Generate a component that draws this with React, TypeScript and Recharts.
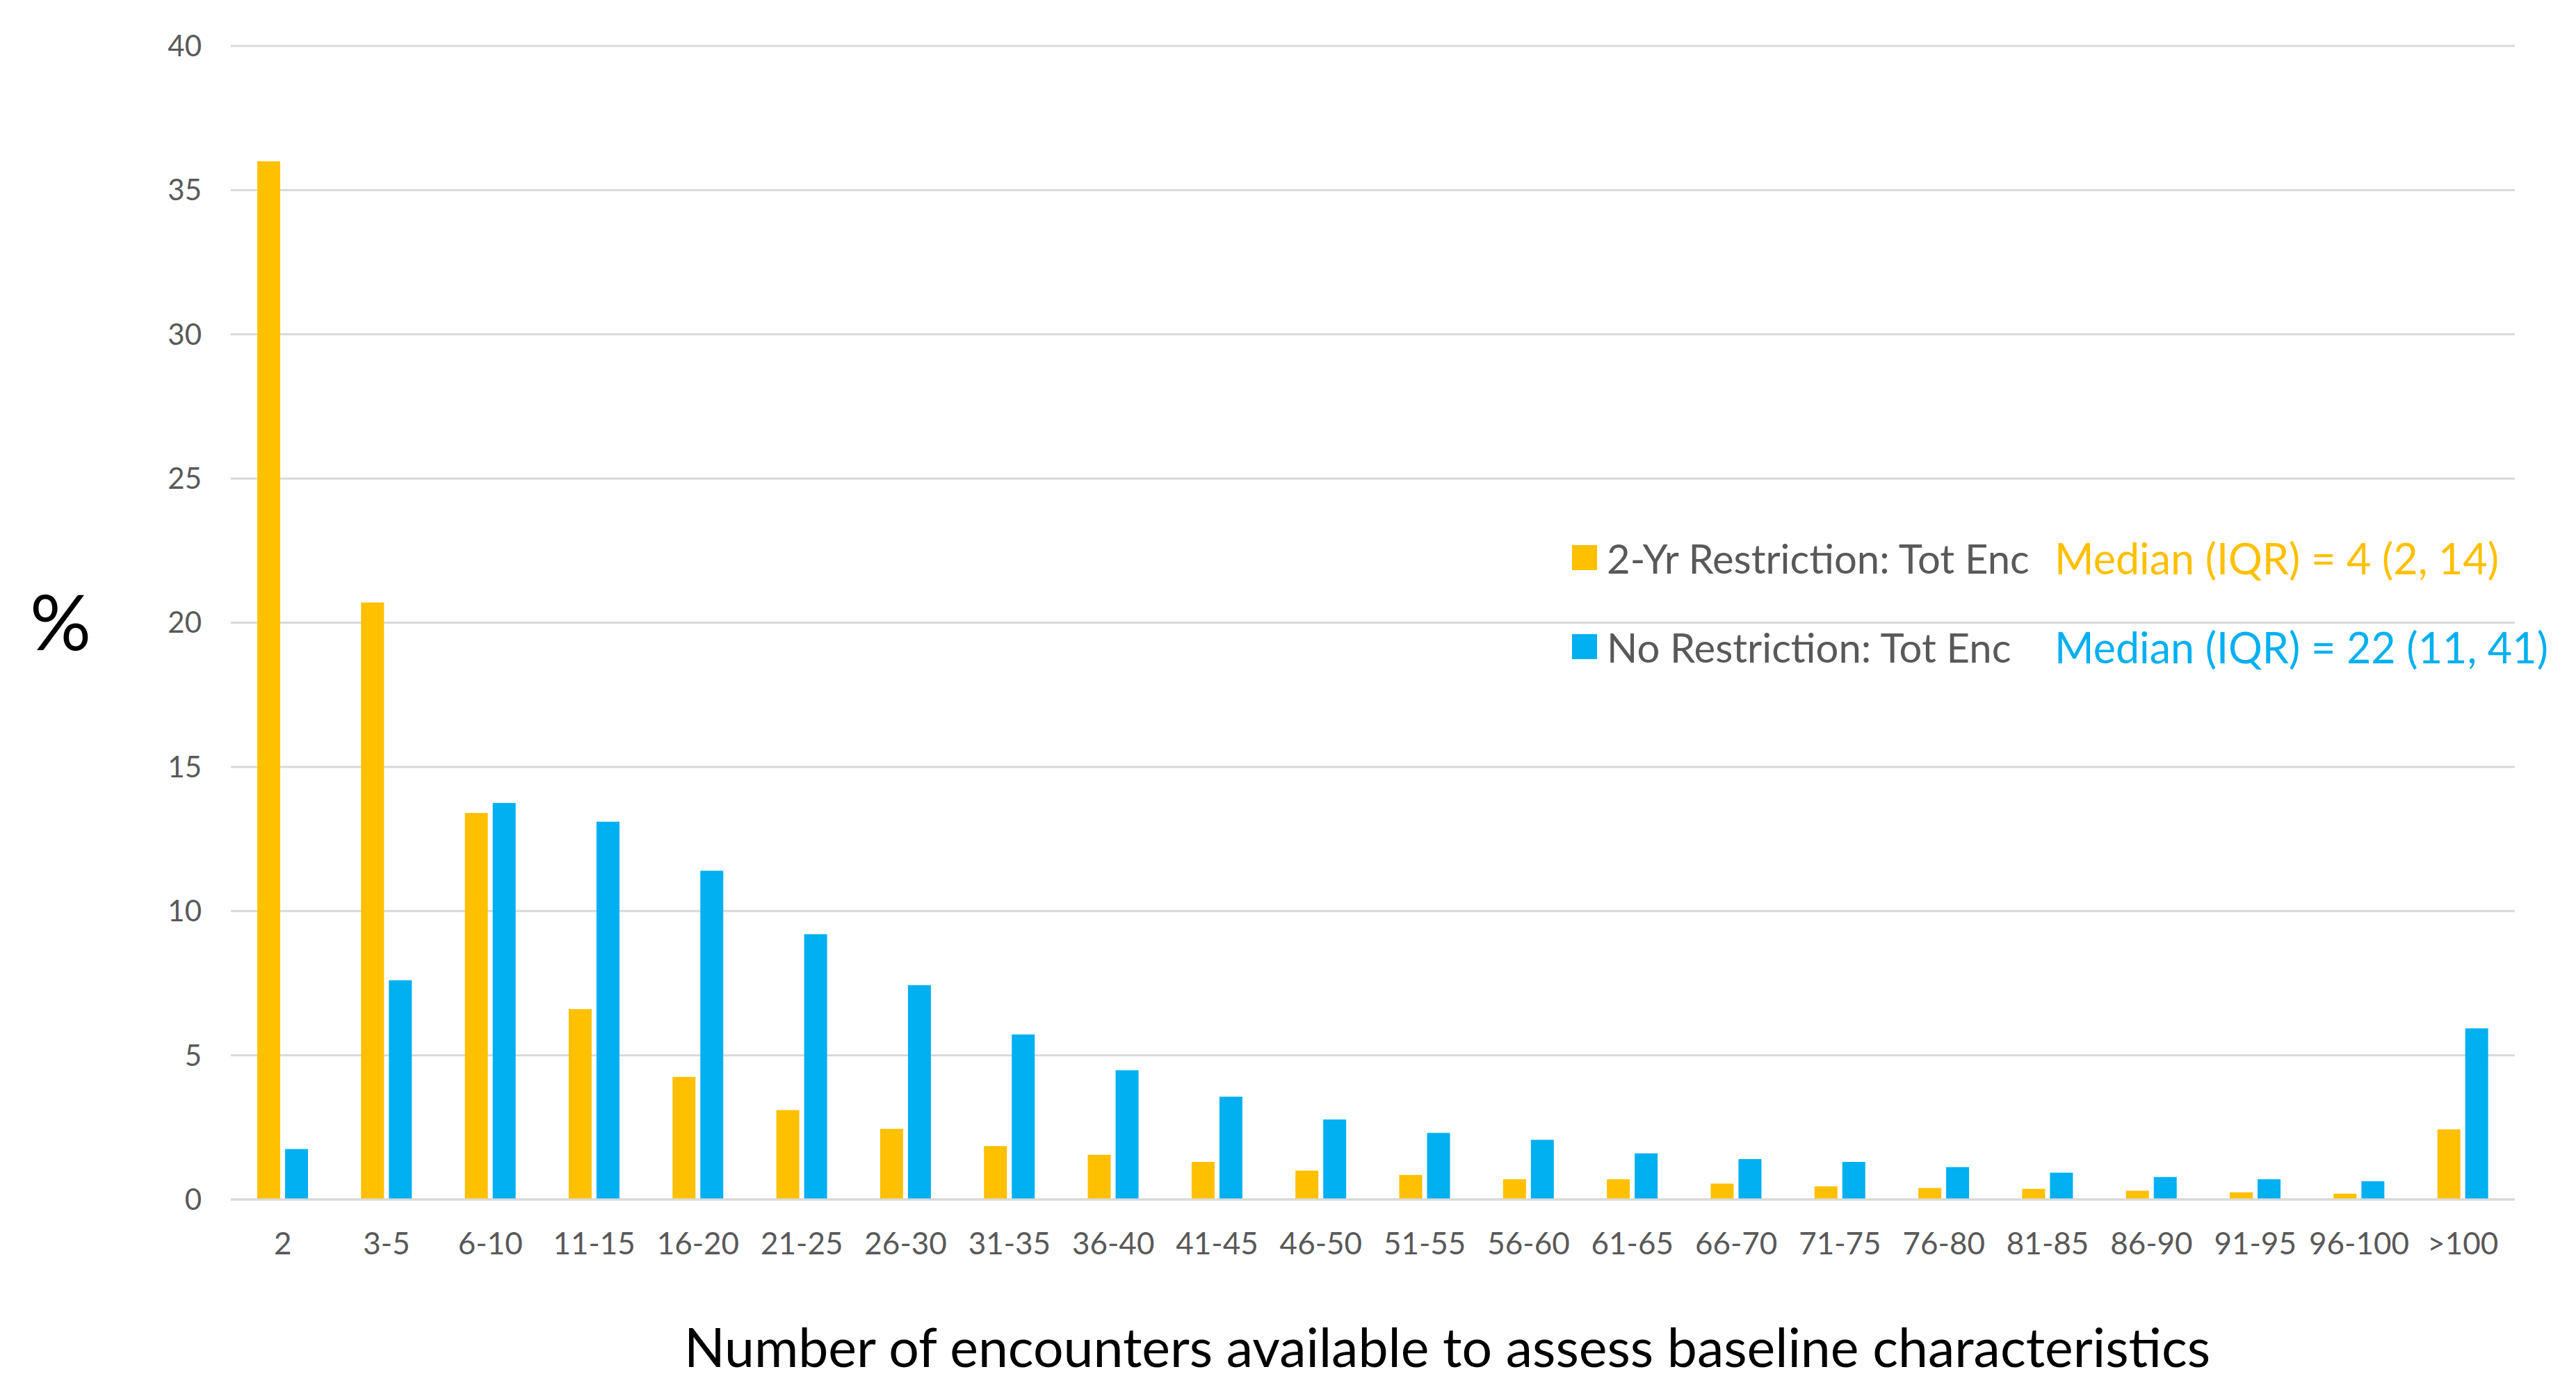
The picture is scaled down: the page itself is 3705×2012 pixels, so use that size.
import React from 'react';
import { BarChart, Bar, XAxis, YAxis, CartesianGrid, Legend, Label } from 'recharts';

const categories = [
  '2', '3-5', '6-10', '11-15', '16-20', '21-25', '26-30', '31-35', '36-40', '41-45', '46-50',
  '51-55', '56-60', '61-65', '66-70', '71-75', '76-80', '81-85', '86-90', '91-95', '96-100', '>100',
];
const restricted = [
  36.0, 20.7, 13.4, 6.6, 4.25, 3.1, 2.45, 1.85, 1.55, 1.3, 1.0,
  0.85, 0.7, 0.7, 0.55, 0.45, 0.4, 0.37, 0.3, 0.25, 0.2, 2.43,
];
const unrestricted = [
  1.75, 7.6, 13.75, 13.1, 11.4, 9.2, 7.43, 5.72, 4.48, 3.56, 2.77,
  2.31, 2.07, 1.6, 1.4, 1.3, 1.12, 0.93, 0.78, 0.7, 0.63, 5.93,
];
const yTicks = [0, 5, 10, 15, 20, 25, 30, 35, 40];
const seriesNames = ['2-Yr Restriction: Tot Enc', 'No Restriction: Tot Enc'];
const medians = ['Median (IQR) = 4 (2, 14)', 'Median (IQR) = 22 (11, 41)'];
const colors = ['#FFC000', '#00B0F0'];

const data = categories.map((c, i) => ({ cat: c, restricted: restricted[i], unrestricted: unrestricted[i] }));

const FONT = 'Lato, "Open Sans", sans-serif';

function LegendBox() {
  return (
    <div style={{ position: 'relative', width: 1460, height: 220, fontFamily: FONT }}>
      {seriesNames.map((name, i) => (
        <div
          key={name}
          style={{ position: 'absolute', left: 0, top: i * 128, height: 80, width: 1460, display: 'flex', alignItems: 'center' }}
        >
          <div style={{ width: 36, height: 36, background: colors[i], marginRight: 14 }} />
          <span style={{ fontSize: 58, color: '#595959', whiteSpace: 'nowrap' }}>{name}</span>
          <span style={{ position: 'absolute', left: 694, fontSize: 61, color: colors[i], whiteSpace: 'nowrap' }}>
            {medians[i]}
          </span>
        </div>
      ))}
    </div>
  );
}

export default function App() {
  return (
    <div style={{ width: 3689, height: 1996, background: '#fff' }}>
      <BarChart
        width={3689}
        height={1996}
        data={data}
        margin={{ top: 58, right: 80, left: 0, bottom: 19 }}
        barSize={33}
        barGap={7}
      >
        <CartesianGrid vertical={false} stroke="#D9D9D9" strokeWidth={3} />
        <XAxis
          dataKey="cat"
          height={260}
          interval={0}
          axisLine={{ stroke: '#D9D9D9', strokeWidth: 3 }}
          tickLine={false}
          tickSize={0}
          tickMargin={48}
          tick={{ fill: '#595959', fontSize: 44, fontFamily: FONT }}
        >
          <Label
            value="Number of encounters available to assess baseline characteristics"
            position="insideBottom"
            offset={19}
            dx={107}
            style={{ fill: '#000', fontSize: 77, fontFamily: FONT }}
          />
        </XAxis>
        <YAxis
          width={324}
          domain={[0, 40]}
          ticks={yTicks}
          axisLine={false}
          tickLine={false}
          tickSize={0}
          tickMargin={42}
          tick={{ fill: '#595959', fontSize: 42, fontFamily: FONT }}
        >
          <Label
            value="%"
            position="insideLeft"
            offset={35}
            style={{ fill: '#000', fontSize: 110, fontFamily: FONT, textAnchor: 'start' }}
          />
        </YAxis>
        <Legend
          layout="vertical"
          align="center"
          verticalAlign="middle"
          content={() => <LegendBox />}
          wrapperStyle={{ position: 'absolute', left: 2253, top: 754, width: 1460 }}
        />
        <Bar dataKey="restricted" name={seriesNames[0]} fill={colors[0]} isAnimationActive={false} />
        <Bar dataKey="unrestricted" name={seriesNames[1]} fill={colors[1]} isAnimationActive={false} />
      </BarChart>
    </div>
  );
}
